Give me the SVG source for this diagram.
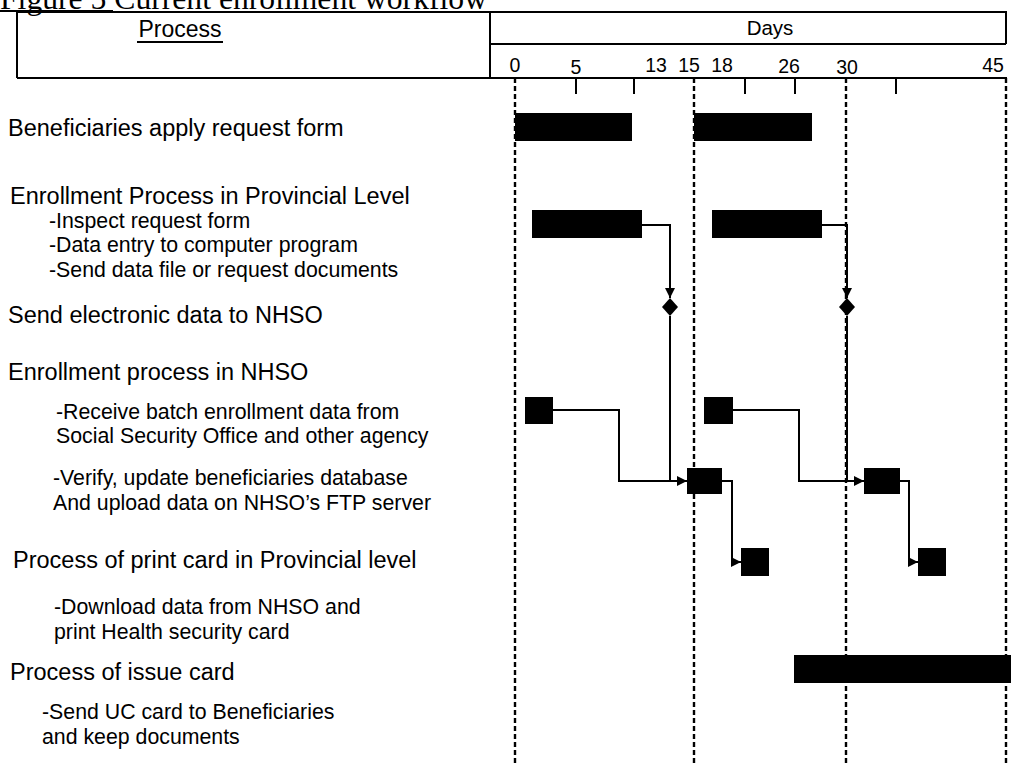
<svg xmlns="http://www.w3.org/2000/svg" width="1011" height="763" viewBox="0 0 1011 763">
  <style>
    .title { font-family: "Liberation Serif", "Times New Roman", serif; font-size: 31px; fill: #000; }
    .hdr { font-family: "Liberation Sans", Arial, sans-serif; font-size: 23px; fill: #000; }
    .day { font-family: "Liberation Sans", Arial, sans-serif; font-size: 19.5px; fill: #000; text-anchor: middle; }
    .main { font-family: "Liberation Sans", Arial, sans-serif; font-size: 23.5px; fill: #000; }
    .sub { font-family: "Liberation Sans", Arial, sans-serif; font-size: 21.3px; fill: #000; }
    .frame { fill: none; stroke: #000; stroke-width: 2; }
    .tick { stroke: #000; stroke-width: 2; }
    .guide { stroke: #000; stroke-width: 2.4; stroke-dasharray: 5 3; fill: none; }
    .bar { fill: #000; }
    .link { fill: none; stroke: #000; stroke-width: 2; }
  </style>
  <defs>
    <marker id="arrow" markerUnits="userSpaceOnUse" markerWidth="10" markerHeight="10" refX="10" refY="5" orient="auto">
      <path d="M0,0 L10,5 L0,10 z" fill="#000"/>
    </marker>
  </defs>

  <rect width="1011" height="763" fill="#fff"/>

  <!-- caption (partly above the page edge) -->
  <g id="caption">
    <text class="title" x="0" y="9" textLength="487" lengthAdjust="spacingAndGlyphs">Figure 5 Current enrollment workflow</text>
    <line x1="0" y1="11" x2="113" y2="11" stroke="#000" stroke-width="2"/>
  </g>

  <!-- table header -->
  <g id="header">
    <polyline class="frame" points="17,78 17,12 1006,12 1006,44"/>
    <line class="frame" x1="490" y1="12" x2="490" y2="78"/>
    <line class="frame" x1="490" y1="44" x2="1006" y2="44"/>
    <line class="frame" x1="17" y1="78" x2="1007" y2="78"/>
    <text class="hdr" x="180" y="37" text-anchor="middle">Process</text>
    <line x1="137" y1="42" x2="223" y2="42" stroke="#000" stroke-width="2"/>
    <text class="hdr" x="770" y="35" text-anchor="middle" style="font-size:20.5px">Days</text>
  </g>

  <!-- day scale -->
  <g id="scale">
    <text class="day" x="515" y="72">0</text>
    <text class="day" x="576" y="74">5</text>
    <text class="day" x="656" y="72">13</text>
    <text class="day" x="689" y="72">15</text>
    <text class="day" x="722" y="72">18</text>
    <text class="day" x="789" y="73">26</text>
    <text class="day" x="847" y="74">30</text>
    <text class="day" x="993" y="72">45</text>
    <line class="tick" x1="576" y1="78" x2="576" y2="94"/>
    <line class="tick" x1="634" y1="78" x2="634" y2="94"/>
    <line class="tick" x1="745" y1="78" x2="745" y2="94"/>
    <line class="tick" x1="795" y1="78" x2="795" y2="94"/>
    <line class="tick" x1="896" y1="78" x2="896" y2="94"/>
  </g>

  <!-- milestone guide lines -->
  <g id="guides">
    <line class="guide" x1="515" y1="78" x2="515" y2="763"/>
    <line class="guide" x1="694" y1="78" x2="694" y2="763"/>
    <line class="guide" x1="846" y1="78" x2="846" y2="763"/>
    <line class="guide" x1="1006" y1="78" x2="1006" y2="763"/>
  </g>

  <!-- process labels -->
  <g id="label-apply">
    <text class="main" x="8" y="136">Beneficiaries apply request form</text>
  </g>
  <g id="label-provincial">
    <text class="main" x="10" y="204">Enrollment Process in Provincial Level</text>
    <text class="sub" x="49" y="228">-Inspect request form</text>
    <text class="sub" x="49" y="252">-Data entry to computer program</text>
    <text class="sub" x="49" y="277">-Send data file or request documents</text>
  </g>
  <g id="label-send">
    <text class="main" x="8" y="323">Send electronic data to NHSO</text>
  </g>
  <g id="label-nhso">
    <text class="main" x="8" y="380">Enrollment process in NHSO</text>
    <text class="sub" x="56" y="419">-Receive batch enrollment data from</text>
    <text class="sub" x="56" y="443">Social Security Office and other agency</text>
    <text class="sub" x="53" y="485">-Verify, update beneficiaries database</text>
    <text class="sub" x="53" y="510">And upload data on NHSO’s FTP server</text>
  </g>
  <g id="label-print">
    <text class="main" x="13" y="568">Process of print card in Provincial level</text>
    <text class="sub" x="54" y="614">-Download data from NHSO and</text>
    <text class="sub" x="54" y="639">print Health security card</text>
  </g>
  <g id="label-issue">
    <text class="main" x="10" y="680">Process of issue card</text>
    <text class="sub" x="42" y="719">-Send UC card to Beneficiaries</text>
    <text class="sub" x="42" y="744">and keep documents</text>
  </g>

  <!-- connectors -->
  <g id="connectors">
    <path class="link" d="M642,225 H670 V298" marker-end="url(#arrow)"/>
    <path class="link" d="M670,316 V481"/>
    <path class="link" d="M822,225 H847 V298" marker-end="url(#arrow)"/>
    <path class="link" d="M847,316 V481"/>
    <path class="link" d="M553,410 H619 V481 H687" marker-end="url(#arrow)"/>
    <path class="link" d="M733,410 H799 V481 H864" marker-end="url(#arrow)"/>
    <path class="link" d="M722,481 H732 V562 H741" marker-end="url(#arrow)"/>
    <path class="link" d="M900,481 H909 V562 H918" marker-end="url(#arrow)"/>
  </g>

  <!-- tasks -->
  <g id="apply-1"><rect class="bar" x="515" y="113" width="117" height="28"/></g>
  <g id="apply-2"><rect class="bar" x="694" y="113" width="118" height="28"/></g>
  <g id="provincial-1"><rect class="bar" x="532" y="210" width="110" height="28"/></g>
  <g id="provincial-2"><rect class="bar" x="712" y="210" width="110" height="28"/></g>
  <g id="send-1"><polygon class="bar" points="670,298 678,307 670,316 662,307"/></g>
  <g id="send-2"><polygon class="bar" points="847,298 855,307 847,316 839,307"/></g>
  <g id="receive-1"><rect class="bar" x="525" y="397" width="28" height="27"/></g>
  <g id="receive-2"><rect class="bar" x="704" y="397" width="29" height="27"/></g>
  <g id="verify-1"><rect class="bar" x="687" y="468" width="35" height="26"/></g>
  <g id="verify-2"><rect class="bar" x="864" y="468" width="36" height="26"/></g>
  <g id="print-1"><rect class="bar" x="741" y="548" width="28" height="28"/></g>
  <g id="print-2"><rect class="bar" x="918" y="548" width="28" height="28"/></g>
  <g id="issue"><rect class="bar" x="794" y="655" width="217" height="28"/></g>
</svg>
